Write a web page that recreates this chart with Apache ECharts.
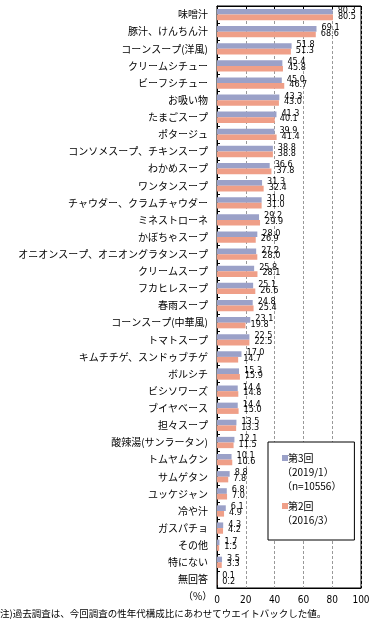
<!DOCTYPE html>
<html><head><meta charset="utf-8">
<script src="https://cdn.jsdelivr.net/npm/echarts@6/dist/echarts.min.js"></script>
<style>html,body{margin:0;padding:0;background:#fff}#c{width:372px;height:629px}</style>
</head><body><div id="c"></div>
<script>
const categories = ['味噌汁','豚汁、けんちん汁','コーンスープ(洋風)','クリームシチュー','ビーフシチュー','お吸い物','たまごスープ','ポタージュ','コンソメスープ、チキンスープ','わかめスープ','ワンタンスープ','チャウダー、クラムチャウダー','ミネストローネ','かぼちゃスープ','オニオンスープ、オニオングラタンスープ','クリームスープ','フカヒレスープ','春雨スープ','コーンスープ(中華風)','トマトスープ','キムチチゲ、スンドゥブチゲ','ボルシチ','ビシソワーズ','ブイヤベース','担々スープ','酸辣湯(サンラータン)','トムヤムクン','サムゲタン','ユッケジャン','冷や汁','ガスパチョ','その他','特にない','無回答'];
const wave3 = [80.3,69.1,51.8,45.4,45.0,43.3,41.3,39.9,38.8,36.6,31.3,31.0,29.2,28.0,27.2,25.8,25.1,24.8,23.1,22.5,17.0,15.3,14.4,14.4,13.5,12.1,10.1,8.8,6.8,6.1,4.3,1.7,3.5,0.1];
const wave2 = [80.5,68.6,51.3,45.8,46.7,43.0,40.1,41.4,38.8,37.8,32.4,31.0,29.9,26.9,28.0,28.1,26.6,25.4,19.8,22.5,14.7,15.9,14.8,15.0,13.3,11.5,10.6,7.8,7.0,4.9,4.2,1.5,3.3,0.2];
const seriesNames = ['第3回（2019/1）（n=10556）','第2回（2016/3）'];
const legendText = {
  '第3回（2019/1）（n=10556）': '{sa| }{t|第3回}\n{t|（2019/1）}\n{t|（n=10556）}',
  '第2回（2016/3）': '{sb| }{t|第2回}\n{t|（2016/3）}'
};
const colors = ['#9ba1c8','#ef9f88'];
const unitLabel = '（%）';
const footnote = '注)過去調査は、今回調査の性年代構成比にあわせてウエイトバックした値。';

const jp = '"Noto Sans CJK JP", sans-serif';
const num = '"DejaVu Sans Condensed", "Liberation Sans Narrow", "DejaVu Sans", sans-serif';

const chart = echarts.init(document.getElementById('c'), null, {renderer:'canvas'});
const valueLabel = {
  show: true, position: 'right', distance: 5, offset: [0, -1],
  fontSize: 9, fontFamily: num, color: '#000',
  formatter: p => p.value.toFixed(1)
};
chart.setOption({
  animation: false,
  backgroundColor: '#fff',
  grid: {left: 217, right: 11, top: 6, bottom: 41, show: true, borderColor: '#000', borderWidth: 1, containLabel: false, outerBoundsMode: 'none'},
  legend: {
    orient: 'vertical', left: 268, top: 442,
    padding: [9, 13, 13, 9], itemGap: 6,
    itemWidth: 0, itemHeight: 0,
    backgroundColor: '#fff', borderColor: '#000', borderWidth: 1,
    data: seriesNames,
    selectedMode: false,
    formatter: n => legendText[n],
    textStyle: {
      fontFamily: jp, fontSize: 10, color: '#000', lineHeight: 14,
      rich: {
        t: {fontFamily: jp, fontSize: 10, lineHeight: 14, color: '#000', verticalAlign: 'middle'},
        sa: {width: 6, height: 6, backgroundColor: colors[0], verticalAlign: 'middle', fontSize: 1},
        sb: {width: 6, height: 6, backgroundColor: colors[1], verticalAlign: 'middle', fontSize: 1}
      }
    }
  },
  xAxis: [{
    type: 'value', min: 0, max: 100, interval: 20, position: 'bottom',
    axisLine: {show: true, lineStyle: {color: '#000', width: 1}},
    axisTick: {show: false},
    axisLabel: {fontSize: 10, fontFamily: num, color: '#000', margin: 7},
    splitLine: {show: true, lineStyle: {color: ['#000','#999','#999','#999','#999','#000'], type: [3, 2], width: 1}}
  }, {
    type: 'value', min: 0, max: 100, interval: 20, position: 'top',
    axisLine: {show: true, lineStyle: {color: '#000', width: 1}},
    axisTick: {show: true, inside: true, length: 4, lineStyle: {color: '#000'}},
    axisLabel: {show: false},
    splitLine: {show: false}
  }],
  yAxis: {
    type: 'category', inverse: true, data: categories,
    axisLine: {show: true, lineStyle: {color: '#000', width: 1}},
    axisTick: {show: true, inside: true, length: 3, interval: 0, lineStyle: {color: '#000'}},
    axisLabel: {interval: 0, fontSize: 10, fontFamily: jp, color: '#000', margin: 9}
  },
  series: [{
    name: seriesNames[0], type: 'bar', data: wave3, xAxisIndex: 0,
    itemStyle: {color: colors[0]}, barCategoryGap: '34%', barGap: '0%',
    label: valueLabel
  }, {
    name: seriesNames[1], type: 'bar', data: wave2, xAxisIndex: 0,
    itemStyle: {color: colors[1]}, barCategoryGap: '34%', barGap: '0%',
    label: valueLabel
  }],
  graphic: [
    {type: 'text', left: 183, top: 591, style: {text: unitLabel, fontSize: 10, fontFamily: jp, fill: '#000'}},
    {type: 'text', left: 0, top: 609, style: {text: footnote, fontSize: 9.5, fontFamily: jp, fill: '#000'}}
  ]
});
</script></body></html>
